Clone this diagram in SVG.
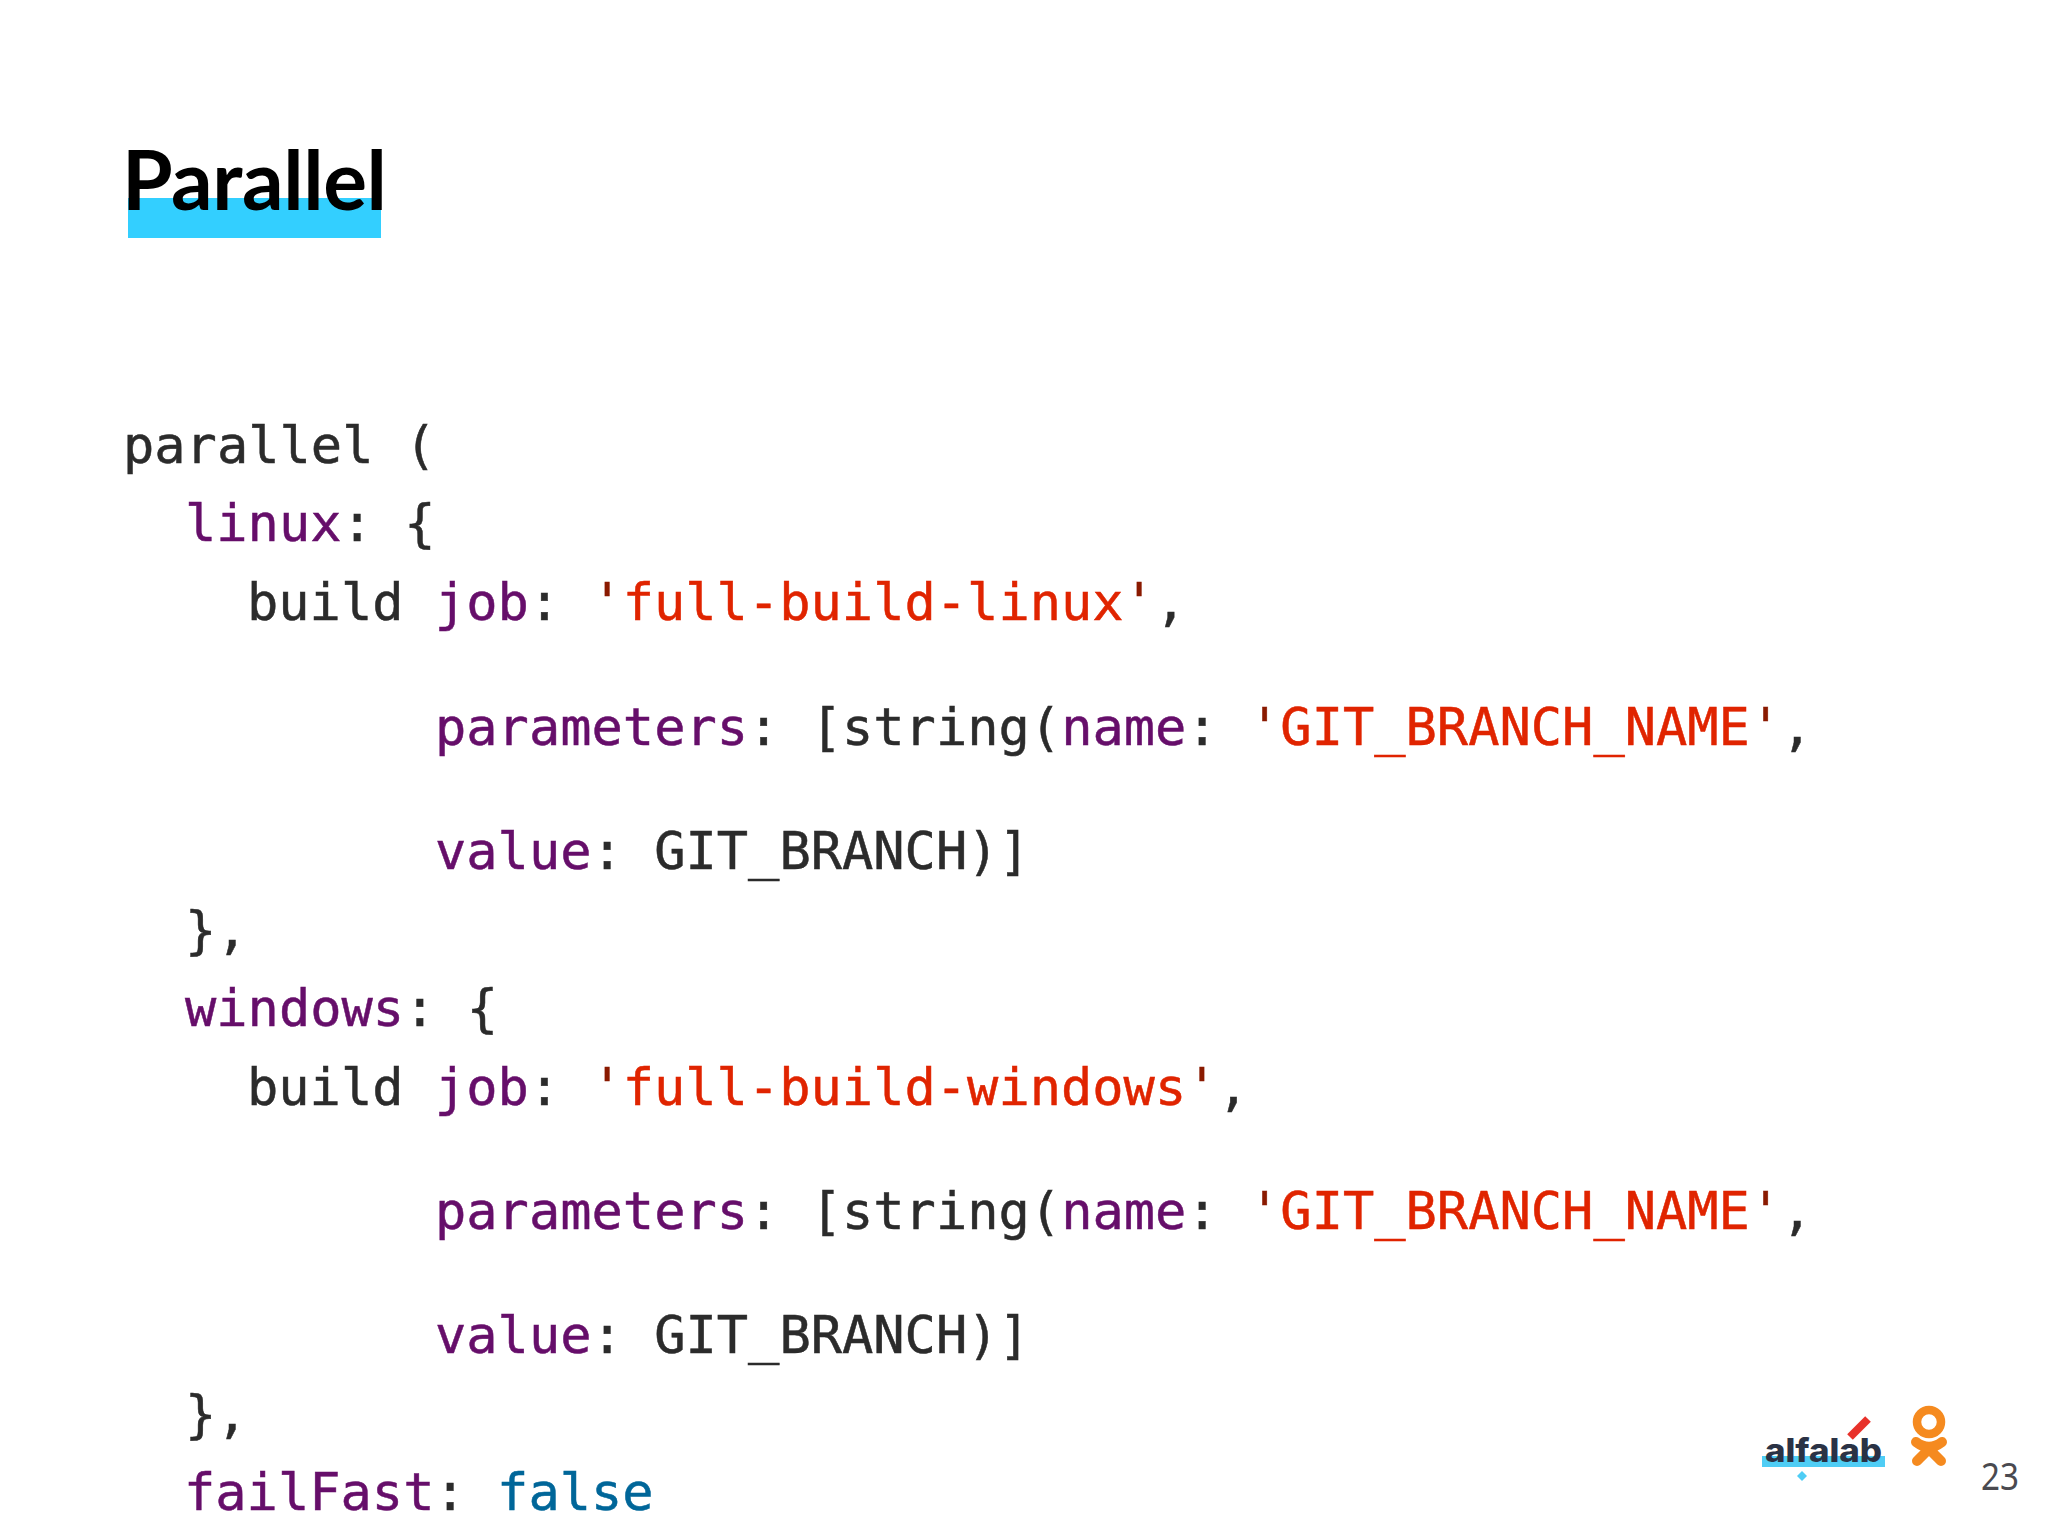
<svg xmlns="http://www.w3.org/2000/svg" width="2048" height="1536" viewBox="0 0 2048 1536">
<style>
.c{font-family:"DejaVu Sans Mono","Liberation Mono",monospace;font-size:52px;fill:#2b2b2b;stroke:#2b2b2b;stroke-width:.5px;white-space:pre}
.k{fill:#660e6a;stroke:#660e6a}.s{fill:#e02400;stroke:#e02400}.q{fill:#8a1a00;stroke:#8a1a00}.b{fill:#006699;stroke:#006699}
.logo{fill:#2a3245}
</style>
<rect width="2048" height="1536" fill="#ffffff"/>
<g id="title">
<rect x="128" y="198" width="253" height="40" fill="#33cfff"/>
<text x="122" y="210" font-family="Lato,'Noto Sans',sans-serif" font-weight="700" font-size="82" fill="#000000" textLength="265" lengthAdjust="spacing">Parallel</text>
</g>
<g id="code">
<text class="c" x="123" y="463">parallel (</text>
<text class="c" x="185" y="541"><tspan class="k">linux</tspan>: {</text>
<text class="c" x="247" y="620">build <tspan class="k">job</tspan>: <tspan class="q">'</tspan><tspan class="s">full-build-linux</tspan><tspan class="q">'</tspan>,</text>
<text class="c" x="435" y="745"><tspan class="k">parameters</tspan>: [string(<tspan class="k">name</tspan>: <tspan class="q">'</tspan><tspan class="s">GIT_BRANCH_NAME</tspan><tspan class="q">'</tspan>,</text>
<text class="c" x="435" y="869"><tspan class="k">value</tspan>: GIT_BRANCH)]</text>
<text class="c" x="185" y="948">},</text>
<text class="c" x="185" y="1026"><tspan class="k">windows</tspan>: {</text>
<text class="c" x="247" y="1105">build <tspan class="k">job</tspan>: <tspan class="q">'</tspan><tspan class="s">full-build-windows</tspan><tspan class="q">'</tspan>,</text>
<text class="c" x="435" y="1229"><tspan class="k">parameters</tspan>: [string(<tspan class="k">name</tspan>: <tspan class="q">'</tspan><tspan class="s">GIT_BRANCH_NAME</tspan><tspan class="q">'</tspan>,</text>
<text class="c" x="435" y="1353"><tspan class="k">value</tspan>: GIT_BRANCH)]</text>
<text class="c" x="185" y="1432">},</text>
<text class="c" x="184" y="1510"><tspan class="k">failFast</tspan>: <tspan class="b">false</tspan></text>
</g>
<g id="logo-alfalab">
<rect x="1762" y="1456" width="123" height="11" fill="#4fcdf5"/>
<text x="1765" y="1462" font-family="Inter,sans-serif" font-weight="800" font-size="32" class="logo" textLength="117" lengthAdjust="spacingAndGlyphs">alfalab</text>
<path d="M1850 1437L1868 1419" stroke="#e8312a" stroke-width="8" fill="none"/>
<path d="M1802 1471L1807 1476L1802 1481L1797 1476Z" fill="#4fcdf5"/>
</g>
<g id="logo-ok" fill="none" stroke="#f58a1f" stroke-linecap="round">
<circle cx="1929" cy="1422" r="12" stroke-width="8.5"/>
<path d="M1916 1442Q1929 1452 1942 1442M1929 1449L1917 1461M1929 1449L1941 1461" stroke-width="10"/>
</g>
<text id="page" x="1981" y="1490" font-family="'Noto Sans',sans-serif" font-size="38" fill="#4a4a50" textLength="38" lengthAdjust="spacingAndGlyphs">23</text>
</svg>
